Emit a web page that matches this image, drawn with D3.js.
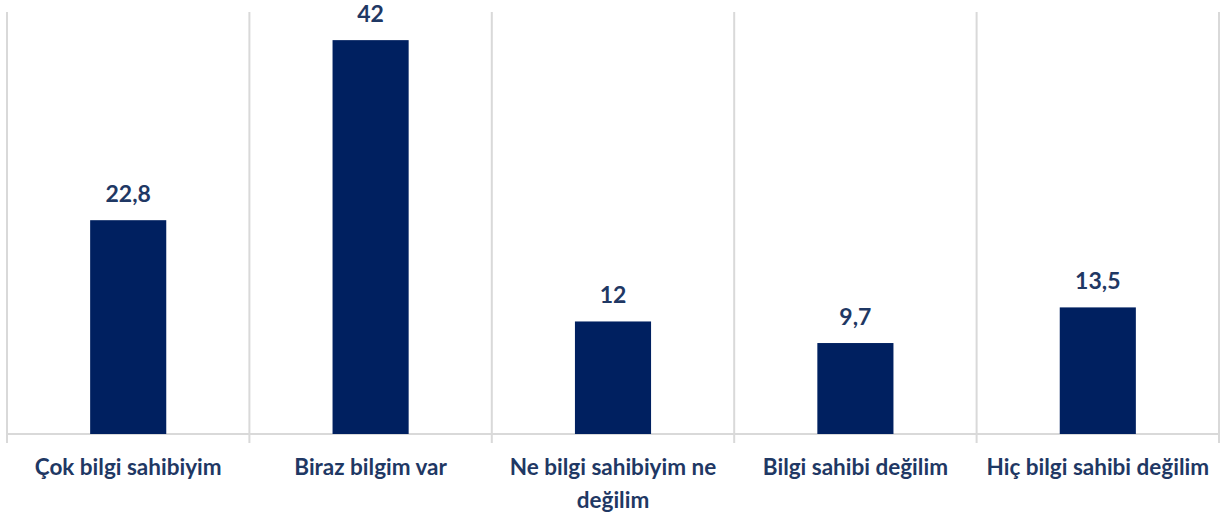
<!DOCTYPE html>
<html>
<head>
<meta charset="utf-8">
<script src="https://cdn.jsdelivr.net/npm/d3@7"></script>
<style>
    body { margin: 0; background: #fff; }
    text { font-family: Lato, "Open Sans", sans-serif; font-weight: bold; }
</style>
</head>
<body>
<svg id="chart"></svg>
<script>
// chart values
var categories = ["Çok bilgi sahibiyim", "Biraz bilgim var", "Ne bilgi sahibiyim ne değilim", "Bilgi sahibi değilim", "Hiç bilgi sahibi değilim"];
var values = [22.8, 42, 12, 9.7, 13.5];
var valueLabels = ["22,8", "42", "12", "9,7", "13,5"];

var width = 1227;
var height = 516;
var margin = { "left": 7, "right": 8, "top": 12, "bottom": 82 };

var svg = d3.select("#chart")
    .attr("width", width)
    .attr("height", height);

var x = d3.scaleBand()
    .domain(categories)
    .range([margin.left, width - margin.right])
    .paddingInner(0.686)
    .paddingOuter(0.343);

var y = d3.scaleLinear()
    .domain([0, 45])
    .range([height - margin.bottom, margin.top]);

var step = x.step();
var gridColor = "#d9d9d9";

// vertical separators between categories
var edges = d3.range(categories.length + 1).map(i => margin.left + i * step);
svg.append("g")
    .attr("class", "grid")
    .selectAll("line")
    .data(edges).enter()
    .append("line")
    .attr("x1", d => d)
    .attr("x2", d => d)
    .attr("y1", y(45))
    .attr("y2", y(0) + 9)
    .style("stroke", gridColor)
    .style("stroke-width", 2);

// baseline
svg.append("line")
    .attr("x1", margin.left)
    .attr("x2", width - margin.right)
    .attr("y1", y(0))
    .attr("y2", y(0))
    .style("stroke", gridColor)
    .style("stroke-width", 2);

// bars
svg.append("g")
    .selectAll("rect")
    .data(values).enter()
    .append("rect")
    .attr("x", (d, i) => x(categories[i]))
    .attr("y", d => y(d))
    .attr("width", x.bandwidth())
    .attr("height", d => y(0) - y(d))
    .style("fill", "#002060");

// value labels
svg.append("g")
    .selectAll("text")
    .data(values).enter()
    .append("text")
    .attr("x", (d, i) => x(categories[i]) + x.bandwidth() / 2)
    .attr("y", d => y(d) - 18)
    .attr("text-anchor", "middle")
    .style("font-size", "23px")
    .style("fill", "#1f3864")
    .text((d, i) => valueLabels[i]);

// category labels, wrapped to the band width
var catGroup = svg.append("g");
categories.forEach(function(c, i) {
    var t = catGroup.append("text")
        .attr("x", x(c) + x.bandwidth() / 2)
        .attr("y", y(0) + 41)
        .attr("text-anchor", "middle")
        .style("font-size", "22.5px")
        .style("fill", "#1f3864");
    wrap(t, c, step - 4);
});

function wrap(textSel, str, maxWidth) {
    var words = str.split(" ");
    var line = [];
    var tspan = textSel.append("tspan").attr("x", textSel.attr("x")).attr("dy", 0);
    words.forEach(function(w) {
        line.push(w);
        tspan.text(line.join(" "));
        if (tspan.node().getComputedTextLength() > maxWidth && line.length > 1) {
            line.pop();
            tspan.text(line.join(" "));
            line = [w];
            tspan = textSel.append("tspan")
                .attr("x", textSel.attr("x"))
                .attr("dy", 33)
                .text(w);
        }
    });
}
</script>
</body>
</html>
